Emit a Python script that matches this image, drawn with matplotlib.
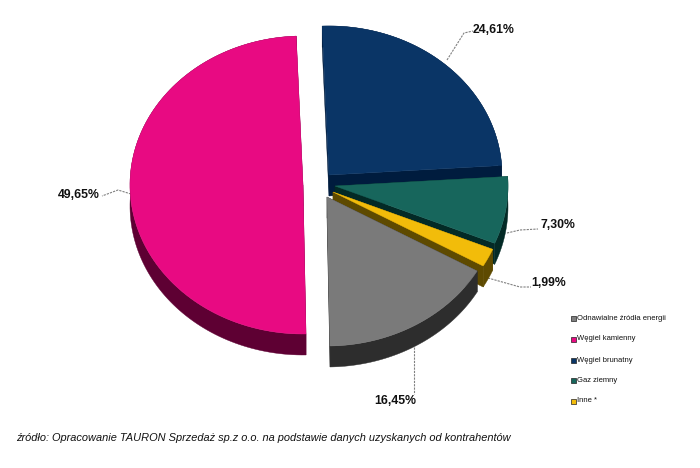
import numpy as np
import matplotlib
matplotlib.use("Agg")
import matplotlib.pyplot as plt
from matplotlib.patches import Polygon, Rectangle

plt.rcParams['font.family'] = ['Liberation Sans', 'DejaVu Sans']

# clockwise order, starting at the bottom of the pie
values = [49.65, 24.61, 7.30, 1.99, 16.45]
labels = ['49,65%', '24,61%', '7,30%', '1,99%', '16,45%']
top_colors = ['#E80A82', '#0A3566', '#17665C', '#F2BC0A', '#7A7A7A']
side_colors = ['#5E0033', '#001C3E', '#032A26', '#5E4A00', '#2D2D2D']

legend_names = ['Odnawialne źródła energii', 'Węgiel kamienny', 'Węgiel brunatny', 'Gaz ziemny', 'Inne *']
legend_colors = ['#7F7F7F', '#E80A82', '#0A3566', '#17665C', '#F2BC0A']

# apex of every exploded slice, in pixels
centers = [(303, 185), (329, 175), (335, 186), (333, 192), (327, 197)]
RX, RY = 173, 149
DEPTH = 21
START = -89

fig = plt.figure(figsize=(7, 4.68), dpi=100)
ax = fig.add_axes([0, 0, 1, 1])
ax.set_xlim(0, 700)
ax.set_ylim(468, 0)
ax.axis('off')


def arc(cx, cy, a0, a1):
    t = np.radians(np.linspace(a0, a1, 120))
    return np.column_stack([cx + RX * np.cos(t), cy - RY * np.sin(t)])


# angles follow the values, clockwise
ends = START - np.cumsum(values) * 3.6
starts = np.r_[START, ends[:-1]]

# back to front so the lower slices cover the walls behind them
for z, i in enumerate([1, 2, 3, 4, 0]):
    cx, cy = centers[i]
    edge = arc(cx, cy, starts[i], ends[i])
    apex = np.array([cx, cy], dtype=float)
    down = np.array([0, DEPTH])
    walls = [
        np.vstack([edge, (edge + down)[::-1]]),
        np.array([apex, edge[0], edge[0] + down, apex + down]),
        np.array([apex, edge[-1], edge[-1] + down, apex + down]),
    ]
    for wall in walls:
        ax.add_patch(Polygon(wall, closed=True, fc=side_colors[i], ec=side_colors[i], lw=0.3, zorder=2 + z))
    ax.add_patch(Polygon(np.vstack([apex, edge]), closed=True, fc=top_colors[i], ec=top_colors[i], lw=0.3, zorder=2.5 + z))

# dashed leader lines
leaders = [
    ([131, 118, 102], [194, 190, 196]),
    ([447, 464, 473], [60, 33, 31]),
    ([507, 520, 538], [233, 230, 229]),
    ([488, 520, 531], [278, 287, 287]),
    ([414, 414], [347, 394]),
]
for xs, ys in leaders:
    ax.plot(xs, ys, color='#808080', lw=0.8, ls=(0, (2, 1)), zorder=1)

label_pos = [(78.5, 195), (494, 30), (558, 225), (549, 283), (395.5, 401)]
for (x, y), txt in zip(label_pos, labels):
    ax.text(x, y, txt, ha='center', va='center', fontsize=8.8, fontweight='bold', color='#111111')

# legend
legend_y = [318, 339, 360, 380.5, 401]
for y, name, c in zip(legend_y, legend_names, legend_colors):
    ax.add_patch(Rectangle((571, y - 2.5), 5, 5, fc=c, ec='#222222', lw=0.5))
    ax.text(577, y, name, ha='left', va='center', fontsize=5.5, color='#111111')

ax.text(16, 438, 'źródło: Opracowanie TAURON Sprzedaż sp.z o.o. na podstawie danych uzyskanych od kontrahentów',
        ha='left', va='center', fontsize=7.93, style='italic', color='#111111')

fig.savefig('out.png', dpi=100)
